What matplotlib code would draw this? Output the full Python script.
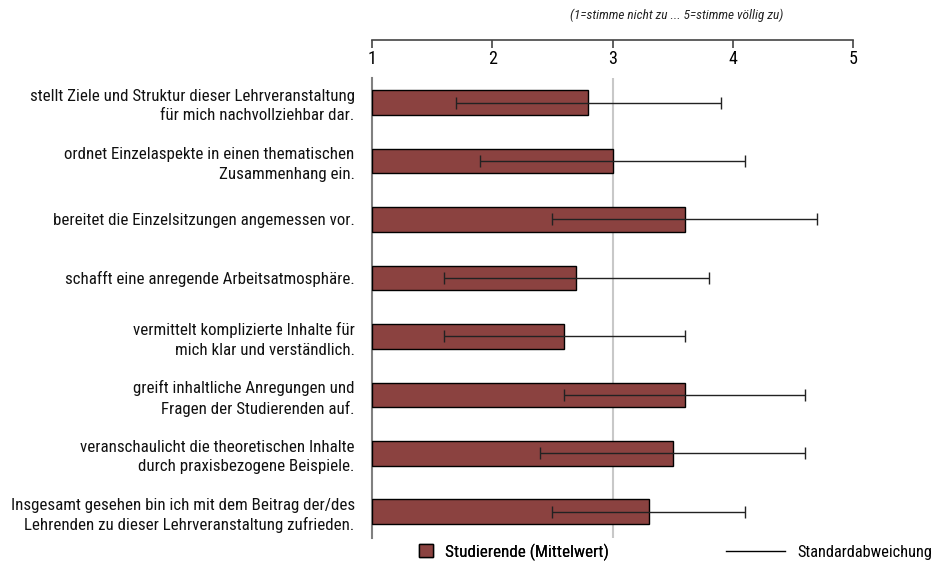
import matplotlib
matplotlib.use("Agg")
import matplotlib.pyplot as plt
from matplotlib.patches import Patch
from matplotlib.lines import Line2D
from matplotlib import font_manager as fm

available = {f.name for f in fm.fontManager.ttflist}
preferred = ['Roboto Condensed', 'Archivo Narrow', 'PT Sans Narrow', 'Liberation Sans Narrow',
             'Roboto', 'DejaVu Sans']
fams = [f for f in preferred if f in available] + ['DejaVu Sans']
plt.rcParams['font.family'] = fams

categories = [
    "stellt Ziele und Struktur dieser Lehrveranstaltung\nfür mich nachvollziehbar dar.",
    "ordnet Einzelaspekte in einen thematischen\nZusammenhang ein.",
    "bereitet die Einzelsitzungen angemessen vor.",
    "schafft eine anregende Arbeitsatmosphäre.",
    "vermittelt komplizierte Inhalte für\nmich klar und verständlich.",
    "greift inhaltliche Anregungen und\nFragen der Studierenden auf.",
    "veranschaulicht die theoretischen Inhalte\ndurch praxisbezogene Beispiele.",
    "Insgesamt gesehen bin ich mit dem Beitrag der/des\nLehrenden zu dieser Lehrveranstaltung zufrieden.",
]
means = [2.8, 3.0, 3.6, 2.7, 2.6, 3.6, 3.5, 3.3]
sds = [1.1, 1.1, 1.1, 1.1, 1.0, 1.0, 1.1, 0.8]
scale_ticks = [1, 2, 3, 4, 5]
subtitle = "(1=stimme nicht zu ... 5=stimme völlig zu)"
legend_labels = ["Studierende (Mittelwert)", "Standardabweichung"]

bar_color = "#8B4240"
W, H = 939, 564
fig = plt.figure(figsize=(W / 100, H / 100), dpi=100)

ax = fig.add_axes([372 / W, 26 / H, 481 / W, 460 / H])
y = list(range(len(categories)))
ax.barh(y, [m - 1 for m in means], left=1, height=0.42, color=bar_color,
        edgecolor="black", linewidth=1, zorder=3)
ax.errorbar(means, y, xerr=sds, fmt="none", ecolor="#222222", elinewidth=1,
            capsize=4, capthick=1, zorder=4)
ax.set_xlim(1, 5)
ax.set_ylim(len(categories) - 0.55, -0.42)
ax.axvline(3, color="#c8c8c8", linewidth=1.5, zorder=1)
for s in ["top", "right", "bottom"]:
    ax.spines[s].set_visible(False)
ax.spines["left"].set_color("#808080")
ax.spines["left"].set_linewidth(1.5)
ax.set_xticks([])
ax.set_yticks(y)
ax.set_yticklabels(categories, fontsize=12.2, linespacing=1.35, color="#111111")
ax.tick_params(axis="y", length=0, pad=12.5)

# top scale axis
ax2 = fig.add_axes([372 / W, (H - 40) / H, 481 / W, 0.0001])
ax2.set_xlim(1, 5)
ax2.set_xticks(scale_ticks)
ax2.set_xticklabels([str(t) for t in scale_ticks], fontsize=13)
ax2.set_yticks([])
for s in ["top", "right", "left"]:
    ax2.spines[s].set_visible(False)
ax2.spines["bottom"].set_color("#444444")
ax2.spines["bottom"].set_linewidth(1.2)
ax2.tick_params(axis="x", direction="out", length=6, width=1.2, color="#444444", pad=1.2)
ax2.patch.set_visible(False)

fig.text(677 / W, 1 - 15 / H, subtitle, ha="center", va="center",
         fontsize=9.5, style="italic", color="#222222")

leg1 = fig.legend(handles=[Patch(facecolor=bar_color, edgecolor="black", linewidth=1)],
                  labels=[legend_labels[0]], loc="center left",
                  bbox_to_anchor=(404 / W, 1 - 552 / H), frameon=False,
                  handlelength=0.8, handleheight=0.8, fontsize=12.3, handletextpad=0.7)
fig.add_artist(leg1)
fig.legend(handles=[Line2D([0], [0], color="black", linewidth=1)],
           labels=[legend_labels[1]], loc="center left",
           bbox_to_anchor=(711 / W, 1 - 552 / H), frameon=False,
           handlelength=3.6, fontsize=11.8, handletextpad=0.75)

fig.savefig("out.png", dpi=100)
